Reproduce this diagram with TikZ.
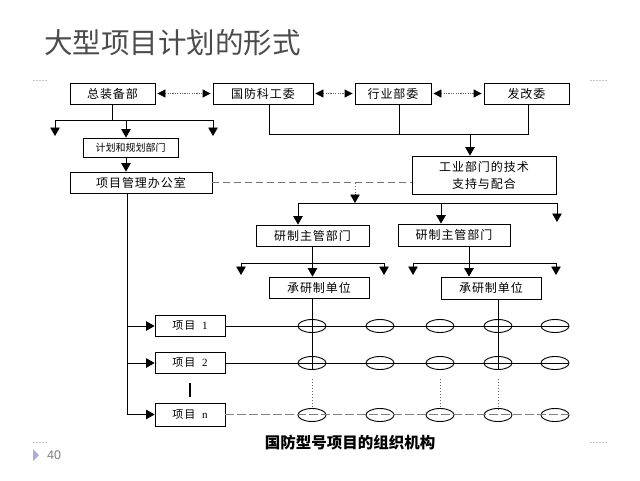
\documentclass[tikz,border=0pt]{standalone}
\usepackage{fontspec}
\setmainfont{Liberation Serif}
\newfontfamily\cjk[LetterSpace=8]{Noto Sans CJK SC}
\newfontfamily\cjkplain{Noto Sans CJK SC}
\newfontfamily\pnfont{Liberation Sans}
\usetikzlibrary{arrows.meta,shapes.geometric}
\begin{document}
\begin{tikzpicture}[x=1pt,y=-1pt,
  box/.style={draw, line width=0.8pt, inner sep=0pt, font=\cjk\fontsize{12}{17}\selectfont},
  conn/.style={line width=0.9pt},
  arr/.style={conn, -{Triangle[width=9.5pt,length=8.5pt]}},
  darr/.style={line width=0.8pt, draw=gray!80!black, dash pattern=on 1.2pt off 1.2pt,
    {Triangle[width=8pt,length=8pt,color=black]}-{Triangle[width=8pt,length=8pt,color=black]},
    shorten <=2pt, shorten >=2pt},
  dsh/.style={line width=0.7pt, draw=gray!90!black, dash pattern=on 7pt off 4pt},
  ell/.style={draw, ellipse, line width=0.9pt, minimum width=28pt, minimum height=13pt, inner sep=0pt},
  rowdot/.style={line width=0.7pt, draw=gray, dash pattern=on 9pt off 3pt},
  vdot/.style={line width=0.7pt, draw=gray!80!black, dash pattern=on 1.5pt off 1.5pt},
  corner/.style={line width=0.8pt, draw=gray!45, dash pattern=on 1.5pt off 1.5pt}
]
\useasboundingbox (0,0) rectangle (640,480);
\fill[white] (0,0) rectangle (640,480);

% title
\node[anchor=west, text=black!70, font=\cjkplain\fontsize{28.5}{30}\selectfont, inner sep=0pt] (title) at (44,43) {大型项目计划的形式};

% corner marks
\draw[corner] (33,80) -- (48,80);
\draw[corner] (590,80) -- (608,80);
\draw[corner] (33,442) -- (48,442);
\draw[corner] (590,442) -- (608,442);

% page number
\fill[gray!55!blue!45] (33,449) -- (39,455) -- (33,461) -- cycle;
\node[anchor=west, text=gray, font=\pnfont\fontsize{12.5}{14}\selectfont, inner sep=0pt] (pg) at (47,455) {40};

% top boxes
\node[box, minimum width=85pt, minimum height=21pt] (zb) at (112.5,93.5) {总装备部};
\node[box, minimum width=100pt, minimum height=21pt] (gf) at (263,93.5) {国防科工委};
\node[box, minimum width=76pt, minimum height=21pt] (hy) at (393,93.5) {行业部委};
\node[box, minimum width=85pt, minimum height=21pt] (fg) at (526.5,93.5) {发改委};

\draw[darr] (zb.east) -- (gf.west);
\draw[darr] (gf.east) -- (hy.west);
\draw[darr] (hy.east) -- (fg.west);

% left column
\node[box, minimum width=95pt, minimum height=19pt, font=\cjkplain\fontsize{10}{12}\selectfont] (jh) at (130.5,147.5) {计划和规划部门};
\node[box, minimum width=142pt, minimum height=21pt] (xm) at (141,182.5) {项目管理办公室};

\coordinate (zbL) at (55,120);
\coordinate (zbR) at (213,120);
\draw[conn] (zb.south) -- (zb.south |- zbL);
\draw[conn] (zbL) -- (zbR);
\draw[arr] (zbL) -- ++(0,16);
\draw[arr] (zbR) -- ++(0,16);
\draw[arr] ([xshift=-4.5pt]jh.north |- zbL) -- ([xshift=-4.5pt]jh.north);
\draw[arr] ([xshift=-4.5pt]jh.south) -- ([xshift=-4.5pt]jh.south |- xm.north);

% industry box
\node[box, minimum width=144pt, minimum height=38pt, align=center] (gy) at (484,175) {工业部门的技术\\支持与配合};
\coordinate (tb) at (0,134);
\draw[conn] ([xshift=6pt]gf.south) |- ([xshift=1.5pt]fg.south |- tb) -- ([xshift=1.5pt]fg.south);
\draw[conn] ([xshift=6pt]hy.south) -- ([xshift=6pt]hy.south |- tb);
\draw[arr] ([xshift=-14pt]gy.north |- tb) -- ([xshift=-14pt]gy.north);

% dashed link
\draw[dsh] (xm.east) -- (xm.east -| gy.west);
\coordinate (dd) at (355,0);
\coordinate (mbL) at (298,203);
\coordinate (mbM) at (441,203);
\coordinate (mbR) at (557,203);
\coordinate (ddend) at (355,194);
\draw[vdot] (xm.east -| dd) -- (ddend);
\draw[arr] (ddend) -- (dd |- mbL);

% development departments
\node[box, minimum width=113pt, minimum height=21pt] (yz1) at (312.5,235.5) {研制主管部门};
\node[box, minimum width=112pt, minimum height=22pt] (yz2) at (454,235) {研制主管部门};
\draw[conn] (mbL) -- (mbR);
\draw[arr] (mbL) -- (mbL |- yz1.north);
\draw[arr] (mbM) -- (mbM |- yz2.north);
\draw[arr] (mbR) -- ++(0,19);

% units
\node[box, minimum width=100pt, minimum height=21pt] (cu1) at (319,287.5) {承研制单位};
\node[box, minimum width=100pt, minimum height=22pt] (cu2) at (491,288) {承研制单位};

\coordinate (aL) at (241,263);
\coordinate (aR) at (384,263);
\draw[conn] (yz1.south) -- (yz1.south |- aL);
\draw[conn] (aL) -- (aR);
\draw[arr] (aL) -- ++(0,12);
\draw[arr] (aR) -- ++(0,12);
\draw[arr] (yz1.south |- aL) -- (yz1.south |- cu1.north);

\coordinate (bL) at (413,263);
\coordinate (bM) at (469,263);
\coordinate (bR) at (556,263);
\draw[conn] (yz2.south -| bM) -- (bM);
\draw[conn] (bL) -- (bR);
\draw[arr] (bL) -- ++(0,12);
\draw[arr] (bR) -- ++(0,12);
\draw[arr] (bM) -- (bM |- cu2.north);

% projects
\node[box, minimum width=70pt, minimum height=21pt, font=\cjk\fontsize{11}{13}\selectfont] (p1) at (190,326) {项目~~{\rmfamily 1}};
\node[box, minimum width=70pt, minimum height=21pt, font=\cjk\fontsize{11}{13}\selectfont] (p2) at (190,363) {项目~~{\rmfamily 2}};
\node[box, minimum width=70pt, minimum height=23pt, font=\cjk\fontsize{11}{13}\selectfont] (p3) at (190,414.5) {项目~~{\rmfamily n}};

\coordinate (lx) at (127,0);
\draw[conn] (xm.south -| lx) -- (p3.west -| lx);
\draw[arr] (p1.west -| lx) -- (p1.west);
\draw[arr] (p2.west -| lx) -- (p2.west);
\draw[arr] (p3.west -| lx) -- (p3.west);
\draw[line width=1.2pt] ([yshift=-9pt]p2.south) -- ++(0,14);

% matrix of ellipses
\foreach \c/\x in {1/312,2/380,3/440,4/498,5/555} {
  \node[ell] (e1\c) at (\x,326) {};
  \node[ell] (e2\c) at (\x,363) {};
  \node[ell] (e3\c) at (\x,415) {};
}
\draw[conn] (p1.east) -- (p1.east -| e15.east);
\draw[conn] (p2.east) -- (p2.east -| e25.east);
\draw[rowdot] (p3.east) -- (p3.east -| e35.east);

\draw[conn] (e21 |- cu1.south) -- (e21.south);
\draw[conn] (e24 |- cu2.south) -- (e24.south);

\draw[vdot] ([yshift=-9pt]e21.south) -- (e31.north);
\draw[vdot] ([yshift=-9pt]e23.south) -- (e33.north);
\draw[vdot] ([yshift=-9pt]e24.south) -- ([yshift=-3pt]e34.north);

% caption
\node[font=\cjkplain\bfseries\fontsize{15.5}{17}\selectfont, inner sep=0pt] (cap) at (350,443) {国防型号项目的组织机构};
\end{tikzpicture}
\end{document}
